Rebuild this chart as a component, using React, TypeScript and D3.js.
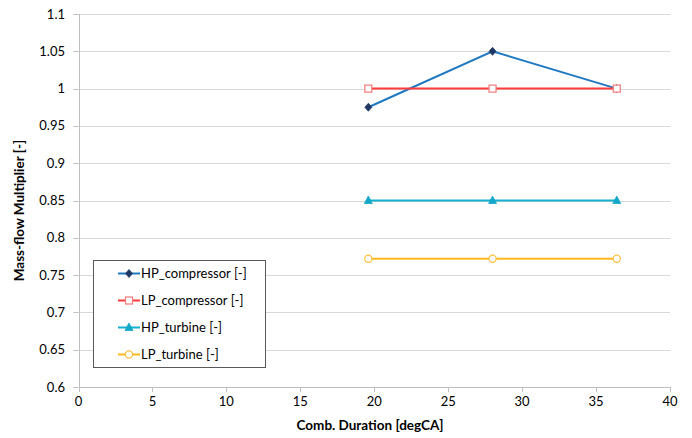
import React from "react";
import * as d3 from "d3";

const durations = [19.6, 28, 36.4];
const hpCompressor = [0.975, 1.05, 1.0];
const lpCompressor = [1.0, 1.0, 1.0];
const hpTurbine = [0.85, 0.85, 0.85];
const lpTurbine = [0.772, 0.772, 0.772];
const seriesNames = ["HP_compressor [-]", "LP_compressor [-]", "HP_turbine [-]", "LP_turbine [-]"];
const xTicks = [0, 5, 10, 15, 20, 25, 30, 35, 40];
const yTicks = [0.6, 0.65, 0.7, 0.75, 0.8, 0.85, 0.9, 0.95, 1, 1.05, 1.1];

const W = 692, H = 438;
const FONT = "Lato, 'Open Sans', sans-serif";

type Marker = "diamond" | "square" | "triangle" | "circle";
const series = [
  { name: seriesNames[0], values: hpCompressor, line: "#2079c0", marker: "diamond" as Marker, mfill: "#1f3864", mstroke: "#1f3864" },
  { name: seriesNames[1], values: lpCompressor, line: "#ff3a3a", marker: "square" as Marker, mfill: "none", mstroke: "#f07a7a" },
  { name: seriesNames[2], values: hpTurbine, line: "#14b0d0", marker: "triangle" as Marker, mfill: "#14a8c8", mstroke: "#14a8c8" },
  { name: seriesNames[3], values: lpTurbine, line: "#ffb81c", marker: "circle" as Marker, mfill: "none", mstroke: "#ffc040" },
];

function MarkerShape({ type, x, y, fill, stroke }: { type: Marker; x: number; y: number; fill: string; stroke: string }) {
  if (type === "diamond") {
    return <path d={`M${x},${y - 4}L${x + 3.5},${y}L${x},${y + 4}L${x - 3.5},${y}Z`} fill={fill} stroke={stroke} strokeWidth={0.8} />;
  }
  if (type === "square") {
    return <rect x={x - 3.5} y={y - 3.5} width={7} height={7} fill="#fff" stroke={stroke} strokeWidth={1.2} />;
  }
  if (type === "triangle") {
    return <path d={`M${x},${y - 4.5}L${x + 4},${y + 3}L${x - 4},${y + 3}Z`} fill={fill} stroke={stroke} strokeWidth={0.8} />;
  }
  return <circle cx={x} cy={y} r={3.6} fill="#fff" stroke={stroke} strokeWidth={1.2} />;
}

export default function App() {
  const x = d3.scaleLinear().domain([0, 40]).range([78.5, 670]);
  const y = d3.scaleLinear().domain([0.6, 1.1]).range([387, 14]);
  const line = d3.line<number>().x((_, i) => x(durations[i])).y((d) => y(d));

  const legendItems = [273.5, 300.5, 327.5, 354.5];

  return (
    <svg width={W} height={H} style={{ position: "absolute", left: 0, top: 0, background: "#fff" }} fontFamily={FONT}>
      <rect x={0} y={0} width={W} height={H} fill="#fff" />
      {yTicks.map((t) => (
        <g key={t}>
          {t > 0.6 && <line x1={x(0)} x2={x(40)} y1={Math.round(y(t)) + 0.5} y2={Math.round(y(t)) + 0.5} stroke="#d9d9d9" strokeWidth={1} />}
          <line x1={x(0) - 5} x2={x(0)} y1={Math.round(y(t)) + 0.5} y2={Math.round(y(t)) + 0.5} stroke="#bfbfbf" />
          <text x={65} y={y(t)} dy="0.35em" textAnchor="end" fontSize={13} fill="#000">{d3.format("")(+t.toFixed(2))}</text>
        </g>
      ))}
      <line x1={Math.round(x(0)) + 0.5} x2={Math.round(x(0)) + 0.5} y1={y(1.1)} y2={y(0.6)} stroke="#bfbfbf" />
      <line x1={x(0)} x2={x(40)} y1={Math.round(y(0.6)) + 0.5} y2={Math.round(y(0.6)) + 0.5} stroke="#bfbfbf" />
      {xTicks.map((t) => (
        <g key={t}>
          <line x1={Math.round(x(t)) + 0.5} x2={Math.round(x(t)) + 0.5} y1={y(0.6)} y2={y(0.6) + 5} stroke="#bfbfbf" />
          <text x={x(t)} y={406} textAnchor="middle" fontSize={13} fill="#000">{t}</text>
        </g>
      ))}
      <text x={370} y={430} textAnchor="middle" fontSize={13.5} fontWeight="bold" fill="#000">Comb. Duration [degCA]</text>
      <text transform={`translate(24,${(y(1.1) + y(0.6)) / 2 + 10}) rotate(-90)`} textAnchor="middle" fontSize={13.5} fontWeight="bold" fill="#000">Mass-flow Multiplier [-]</text>

      {series.map((s) => (
        <g key={s.name}>
          <path d={line(s.values) || ""} fill="none" stroke={s.line} strokeWidth={2} />
          {s.values.map((v, i) => (
            <MarkerShape key={i} type={s.marker} x={x(durations[i])} y={y(v)} fill={s.mfill} stroke={s.mstroke} />
          ))}
        </g>
      ))}

      <rect x={93.5} y={260.5} width={172} height={107} fill="#fff" stroke="#595959" strokeWidth={1} />
      {series.map((s, i) => (
        <g key={s.name}>
          <line x1={118} x2={140} y1={legendItems[i]} y2={legendItems[i]} stroke={s.line} strokeWidth={2} />
          <MarkerShape type={s.marker} x={129} y={legendItems[i]} fill={s.mfill} stroke={s.mstroke} />
          <text x={141} y={legendItems[i]} dy="0.35em" fontSize={13} fill="#000">{s.name}</text>
        </g>
      ))}
    </svg>
  );
}
